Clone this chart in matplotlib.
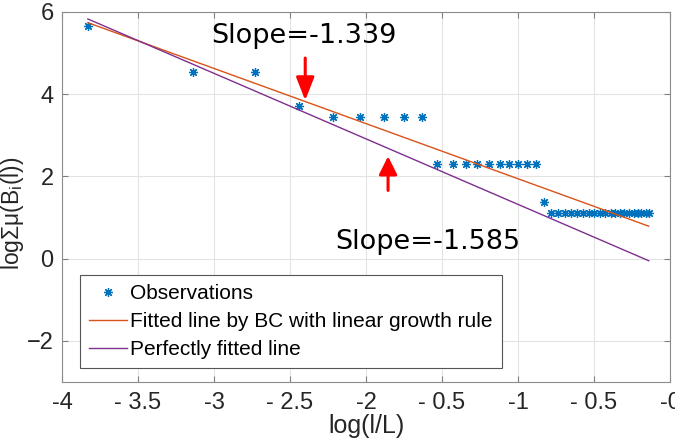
import matplotlib
matplotlib.use("Agg")
import matplotlib.pyplot as plt

plt.rcParams['font.family'] = ['Liberation Sans', 'DejaVu Sans']

# observations, log(l/L) vs log sum of measures
obs_x = [-3.83, -3.14, -2.73, -2.44, -2.22, -2.04, -1.88, -1.75, -1.63,
         -1.53, -1.43, -1.34, -1.27, -1.19, -1.12, -1.06, -1.00, -0.94, -0.88,
         -0.83,
         -0.78, -0.74, -0.69, -0.65, -0.61, -0.57, -0.53, -0.50, -0.46, -0.43,
         -0.39, -0.36, -0.33, -0.30, -0.27, -0.24, -0.21, -0.19, -0.16, -0.14]
obs_y = [5.66, 4.55, 4.55, 3.71, 3.44, 3.44, 3.44, 3.44, 3.44,
         2.31, 2.31, 2.31, 2.31, 2.31, 2.31, 2.31, 2.31, 2.31, 2.31,
         1.38,
         1.10, 1.10, 1.10, 1.10, 1.10, 1.10, 1.10, 1.10, 1.10, 1.10,
         1.10, 1.10, 1.10, 1.10, 1.10, 1.10, 1.10, 1.10, 1.10, 1.10]

# end points of the two lines
line_x = [-3.83, -0.14]
fit_y = [5.74, 0.79]
perfect_y = [5.83, -0.05]

xticks = [-4, -3.5, -3, -2.5, -2, -1.5, -1, -0.5, 0]
xlabels = ['-4', '- 3.5', '-3', '- 2.5', '-2', '- 0.5', '-1', '- 0.5', '-0']
yticks = [-2, 0, 2, 4, 6]

fig = plt.figure(figsize=(6.75, 4.42), dpi=100)
ax = fig.add_axes([0.0919, 0.1357, 0.9007, 0.8372])

ax.plot(obs_x, obs_y, linestyle='none', marker=(8, 2, 0), markersize=6.5,
        markeredgewidth=0.9, color='#0072BD', label='Observations')
ax.plot(line_x, fit_y, color='#D95319', lw=1.0,
        label='Fitted line by BC with linear growth rule')
ax.plot(line_x, perfect_y, color='#7E2F8E', lw=1.0,
        label='Perfectly fitted line')

ax.text(-3.02, 5.24, 'Slope=-1.339', fontsize=19.5, family='DejaVu Sans',
        color='black')
ax.text(-2.20, 0.24, 'Slope=-1.585', fontsize=19.5, family='DejaVu Sans',
        color='black')

ax.annotate('', xy=(-2.40, 3.85), xytext=(-2.40, 4.88),
            arrowprops=dict(arrowstyle='-|>,head_length=1.4,head_width=0.55',
                            color='red', lw=2.2, shrinkA=0, shrinkB=0))
ax.annotate('', xy=(-1.855, 2.49), xytext=(-1.855, 1.66),
            arrowprops=dict(arrowstyle='-|>,head_length=1.1,head_width=0.55',
                            color='red', lw=2.2, shrinkA=0, shrinkB=0))

ax.set_xlim(-4, 0)
ax.set_ylim(-3, 6)
ax.set_xticks(xticks)
ax.set_xticklabels(xlabels)
ax.set_yticks(yticks)
ax.grid(True, color='#e3e3e3', lw=0.8)
ax.set_axisbelow(True)
ax.tick_params(direction='in', length=4, top=True, right=True,
               labelsize=17, colors='#808080', labelcolor='#262626')
ax.tick_params(axis='x', pad=7)
ax.tick_params(axis='y', pad=6)
for s in ax.spines.values():
    s.set_color('#8c8c8c')
    s.set_linewidth(0.8)

ax.set_xlabel('log(l/L)', fontsize=18, color='#262626', labelpad=0)
ax.set_ylabel(r'logΣμ(B$_\mathregular{i}$(l))', fontsize=16.5, color='#262626')
ax.yaxis.set_label_coords(-0.0585, 0.455)

leg = ax.legend(loc='upper left', bbox_to_anchor=(0.0296, 0.289), fontsize=15,
                fancybox=False, edgecolor='#555555', framealpha=1,
                handlelength=1.8, handletextpad=0.15, borderpad=0.45,
                labelspacing=0.42, borderaxespad=0)
leg.get_frame().set_linewidth(0.8)

fig.savefig('out.png', dpi=100)
